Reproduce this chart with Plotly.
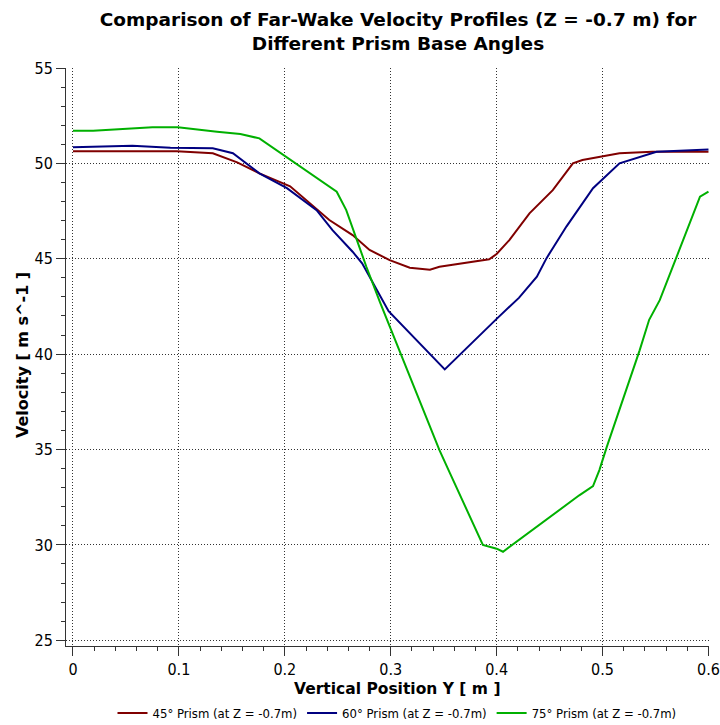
import plotly.graph_objects as go

title_text = "Comparison of Far-Wake Velocity Profiles (Z = -0.7 m) for<br>Different Prism Base Angles"
x_title = "Vertical Position Y [ m ]"
y_title = "Velocity [ m s^-1 ]"

names = ["45\u00b0 Prism (at Z = -0.7m)", "60\u00b0 Prism (at Z = -0.7m)", "75\u00b0 Prism (at Z = -0.7m)"]
colors = ["#800000", "#000080", "#00b000"]

x45 = [0, 0.05, 0.098, 0.132, 0.155, 0.176, 0.205, 0.242, 0.264, 0.28, 0.29, 0.299, 0.318, 0.337,
       0.346, 0.393, 0.4, 0.412, 0.431, 0.453, 0.472, 0.481, 0.516, 0.547, 0.6]
y45 = [50.63, 50.64, 50.63, 50.53, 50.05, 49.48, 48.8, 47.03, 46.24, 45.46, 45.2, 44.93, 44.53, 44.43,
       44.58, 44.97, 45.25, 45.98, 47.38, 48.6, 50.0, 50.18, 50.53, 50.61, 50.61]

x60 = [0, 0.056, 0.092, 0.132, 0.151, 0.176, 0.202, 0.211, 0.230, 0.245, 0.264, 0.273, 0.29, 0.298,
       0.351, 0.384, 0.4, 0.421, 0.438, 0.447, 0.466, 0.491, 0.516, 0.551, 0.6]
y60 = [50.84, 50.93, 50.82, 50.79, 50.53, 49.48, 48.7, 48.34, 47.55, 46.5, 45.37, 44.76, 43.1, 42.25,
       39.2, 41.0, 41.85, 42.95, 44.06, 45.02, 46.7, 48.7, 50.0, 50.61, 50.73]

x75 = [0, 0.019, 0.075, 0.099, 0.136, 0.158, 0.176, 0.249, 0.258, 0.277, 0.29, 0.346, 0.356, 0.387,
       0.4, 0.406, 0.478, 0.491, 0.497, 0.504, 0.535, 0.544, 0.554, 0.592, 0.6]
y75 = [51.71, 51.71, 51.89, 51.89, 51.66, 51.54, 51.31, 48.51, 47.55, 44.58, 42.7, 34.97, 33.75, 30.0,
       29.8, 29.64, 32.6, 33.08, 33.92, 35.14, 40.2, 41.8, 42.83, 48.25, 48.52]

x_ticks = [0, 0.1, 0.2, 0.3, 0.4, 0.5, 0.6]
x_ticklabels = ["0", "0.1", "0.2", "0.3", "0.4", "0.5", "0.6"]
y_ticks = [25, 30, 35, 40, 45, 50, 55]

FONT = "DejaVu Sans, sans-serif"
CFONT = "DejaVu Sans Condensed, DejaVu Sans, sans-serif"

W, H = 720, 725
ML, MR, MT, MB = 66, 11, 68, 79
PW, PH = W - ML - MR, H - MT - MB

fig = go.Figure()
for xs, ys, nm, c in zip([x45, x60, x75], [y45, y60, y75], names, colors):
    fig.add_trace(go.Scatter(x=xs, y=ys, mode="lines", name=nm,
                             line=dict(color=c, width=2)))

fig.update_layout(
    width=W, height=H,
    paper_bgcolor="white", plot_bgcolor="white",
    margin=dict(l=ML, r=MR, t=MT, b=MB, autoexpand=False),
    font=dict(family=FONT, color="black"),
    title=dict(text="<b>" + title_text + "</b>", xref="container", x=398 / W, xanchor="center",
               yref="container", y=1 - 25.5 / H, yanchor="middle",
               font=dict(size=18.5, family=FONT)),
    showlegend=True,
    legend=dict(orientation="h", x=(397 - ML) / PW, xanchor="center",
                y=-(713 - (MT + PH)) / PH, yanchor="middle",
                font=dict(size=13, family=CFONT), itemwidth=30, tracegroupgap=0),
    annotations=[
        dict(text="<b>" + y_title + "</b>", xref="paper", yref="paper",
             x=(23 - ML) / PW, y=(MT + PH - 355) / PH, xanchor="center", yanchor="middle",
             textangle=-90, showarrow=False, font=dict(size=16, family=FONT)),
        dict(text="<b>" + x_title + "</b>", xref="paper", yref="paper",
             x=(397 - ML) / PW, y=-(689 - (MT + PH)) / PH, xanchor="center", yanchor="middle",
             showarrow=False, font=dict(size=15.5, family=FONT)),
    ],
)
grid_dash = "1px,2px"
fig.update_xaxes(
    range=[-0.0066, 0.6005], tickvals=x_ticks, ticktext=x_ticklabels, automargin=False,
    showgrid=True, gridcolor="#333333", griddash=grid_dash, gridwidth=1,
    zeroline=False, showline=True, linecolor="#333333", linewidth=1,
    ticks="outside", ticklen=9, tickcolor="#333333",
    minor=dict(dtick=0.02, ticks="outside", ticklen=4, tickcolor="#333333", showgrid=False),
    tickfont=dict(size=16, family=CFONT),
)
fig.update_yaxes(
    range=[24.7, 55], tickvals=y_ticks, automargin=False,
    showgrid=True, gridcolor="#333333", griddash=grid_dash, gridwidth=1,
    zeroline=False, showline=True, linecolor="#333333", linewidth=1,
    ticks="outside", ticklen=9, tickcolor="#333333",
    minor=dict(dtick=1, ticks="outside", ticklen=4, tickcolor="#333333", showgrid=False),
    tickfont=dict(size=16, family=CFONT),
)

fig.write_html("out.html", config={"displayModeBar": False},
               post_script="document.body.style.margin='0';document.body.style.overflow='hidden';")
